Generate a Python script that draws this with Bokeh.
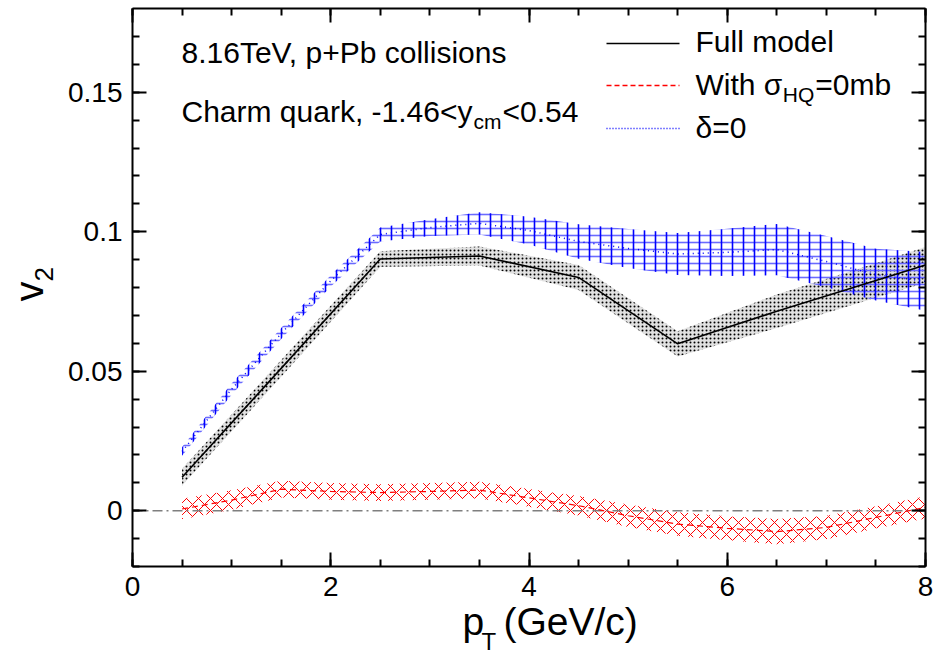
import math
from bokeh.plotting import figure
from bokeh.models import (Range1d, LinearAxis, SingleIntervalTicker, CustomJSTickFormatter, Label)
from bokeh.embed import file_html
from bokeh.resources import INLINE

# ---------------- data ----------------
# Full model
full_pt = [0.5, 1.5, 2.5, 3.5, 4.5, 5.5, 6.5, 7.5, 8.0]
full_v2 = [0.0120, 0.0510, 0.0902, 0.0913, 0.0836, 0.0598, 0.0715, 0.0825, 0.0881]
full_err = [0.0030, 0.0030, 0.0028, 0.0034, 0.0045, 0.0045, 0.0060, 0.0062, 0.0064]

# With sigma_HQ = 0 mb
sig0_pt = [0.5, 1.0, 1.5, 2.0, 2.5, 3.0, 3.5, 4.0, 4.5, 5.0, 5.5, 6.0, 6.5, 7.0, 7.5, 8.0]
sig0_v2 = [0.0006, 0.0038, 0.0077, 0.0069, 0.0065, 0.0069, 0.0074, 0.0046, 0.0018, -0.0018,
           -0.0048, -0.0063, -0.0075, -0.0060, -0.0024, 0.0012]
sig0_err = [0.0037, 0.0035, 0.0030, 0.0030, 0.0030, 0.0030, 0.0030, 0.0032, 0.0035, 0.0040,
            0.0042, 0.0043, 0.0045, 0.0042, 0.0040, 0.0040]

# delta = 0
d0_pt = [0.5, 1.0, 1.5, 2.0, 2.5, 3.0, 3.5, 4.0, 4.5, 5.0, 5.5, 6.0, 6.5, 7.0, 7.5, 8.0]
d0_v2 = [0.0212, 0.0436, 0.0635, 0.0824, 0.0990, 0.1015, 0.1030, 0.1004, 0.0965, 0.0940,
         0.0920, 0.0926, 0.0936, 0.0893, 0.0846, 0.0822]
d0_err = [0.0015, 0.0020, 0.0020, 0.0020, 0.0025, 0.0030, 0.0040, 0.0050, 0.0062, 0.0070,
          0.0075, 0.0085, 0.0092, 0.0092, 0.0093, 0.0105]

legend_labels = ["Full model", "With σ", "HQ", "=0mb", "δ=0"]
text_line1 = "8.16TeV, p+Pb collisions"
text_line2 = ["Charm quark, -1.46<y", "cm", "<0.54"]
x_title = ["p", "T", "(GeV/c)"]
y_title = ["v", "2"]

# ---------------- layout ----------------
FONT = "Liberation Sans"
W, H = 938, 656
X0, X1, Y0, Y1 = 0.0, 8.0, -0.02, 0.18          # axis extent
FL, FR, FT, FB = 132, 925, 8, 566              # axis box in page pixels

def dx(px):
    return X0 + (px - FL) / (FR - FL) * (X1 - X0)
def dy(py):
    return Y1 - (py - FT) / (FB - FT) * (Y1 - Y0)

# the plot frame covers the whole canvas; the axes are fixed at the box edges
p = figure(width=W, height=H, x_range=Range1d(dx(0), dx(W)), y_range=Range1d(dy(H), dy(0)),
           output_backend="svg", toolbar_location=None,
           min_border_left=0, min_border_right=0, min_border_top=0, min_border_bottom=0,
           background_fill_color="white", border_fill_color="white")
p.grid.visible = False
p.outline_line_color = None

fmt = CustomJSTickFormatter(code="return (Math.round(tick*1000)/1000).toString();")
blank = CustomJSTickFormatter(code="return '';")

def style_axis(ax, interval, nminor, formatter, loc, bounds, labels=True):
    ax.ticker = SingleIntervalTicker(interval=interval, num_minor_ticks=nminor)
    ax.formatter = formatter
    ax.fixed_location = loc
    ax.bounds = bounds
    ax.axis_line_width = 2
    ax.axis_line_color = "black"
    ax.major_tick_line_width = 2
    ax.minor_tick_line_width = 2
    ax.major_tick_line_color = "black"
    ax.minor_tick_line_color = "black"
    ax.major_tick_in = 14
    ax.major_tick_out = 0
    ax.minor_tick_in = 7
    ax.minor_tick_out = 0
    if labels:
        ax.major_label_text_font = FONT
        ax.major_label_text_font_size = "28px"
        ax.major_label_text_color = "black"
        ax.major_label_standoff = 10
    else:
        ax.major_label_text_font_size = "0px"
        ax.major_label_standoff = 0

style_axis(p.xaxis[0], 2, 4, fmt, Y0, (X0, X1))
style_axis(p.yaxis[0], 0.05, 5, fmt, X0, (Y0, Y1))
top_ax = LinearAxis()
right_ax = LinearAxis()
style_axis(top_ax, 2, 4, blank, Y1, (X0, X1), labels=False)
style_axis(right_ax, 0.05, 5, blank, X1, (Y0, Y1), labels=False)
p.add_layout(top_ax, "above")
p.add_layout(right_ax, "right")

# ---------------- bands ----------------
full_lo = [v - e for v, e in zip(full_v2, full_err)]
full_hi = [v + e for v, e in zip(full_v2, full_err)]
sig0_lo = [v - e for v, e in zip(sig0_v2, sig0_err)]
sig0_hi = [v + e for v, e in zip(sig0_v2, sig0_err)]
d0_lo = [v - e for v, e in zip(d0_v2, d0_err)]
d0_hi = [v + e for v, e in zip(d0_v2, d0_err)]

p.varea(x=full_pt, y1=full_lo, y2=full_hi, fill_color="#9a9a9a", fill_alpha=0.30,
        hatch_pattern="dot", hatch_color="black", hatch_scale=4, hatch_weight=1)
p.varea(x=sig0_pt, y1=sig0_lo, y2=sig0_hi, fill_alpha=0.0,
        hatch_pattern="diagonal_cross", hatch_color="red", hatch_scale=12, hatch_weight=1)
p.varea(x=d0_pt, y1=d0_lo, y2=d0_hi, fill_alpha=0.0,
        hatch_pattern="horizontal_line", hatch_color="#6a6aff", hatch_scale=7, hatch_weight=1.6)
p.varea(x=d0_pt, y1=d0_lo, y2=d0_hi, fill_alpha=0.0,
        hatch_pattern="vertical_line", hatch_color="blue", hatch_scale=11, hatch_weight=1.6)

# zero reference line across the axis box
p.line([X0, X1], [0, 0], line_color="#7f7f7f", line_width=1.6, line_dash="10 4 2 4")

# central curves
p.line(full_pt, full_v2, line_color="black", line_width=1.6)
p.line(sig0_pt, sig0_v2, line_color="red", line_width=1.2, line_dash="6 4")
p.line(d0_pt, d0_v2, line_color="blue", line_width=1.5, line_dash="1 4")

# ---------------- legend (manual) ----------------
lx0, lx1 = dx(606), dx(679)
p.line([lx0, lx1], [dy(43), dy(43)], line_color="black", line_width=1.6)
p.line([lx0, lx1], [dy(85), dy(85)], line_color="red", line_width=1.4, line_dash="5 3")
p.line([lx0, lx1], [dy(128), dy(128)], line_color="blue", line_width=1.5, line_dash="1 2")

# ---------------- texts ----------------
CW = {'0': .556, '1': .556, '2': .556, '3': .556, '4': .556, '5': .556, '6': .556, '7': .556,
      '8': .556, '9': .556, '.': .278, ',': .278, ' ': .278, '-': .333, '<': .584, '=': .584,
      '+': .584, '(': .333, ')': .333, '/': .278, 'C': .722, 'G': .778, 'T': .611, 'V': .667,
      'P': .667, 'F': .611, 'W': .944, 'H': .722, 'Q': .778, 'a': .556, 'b': .556, 'c': .5,
      'd': .556, 'e': .556, 'h': .556, 'i': .222, 'k': .5, 'l': .222, 'm': .833, 'n': .556,
      'o': .556, 'p': .556, 'q': .556, 'r': .333, 's': .5, 't': .278, 'u': .556, 'y': .5,
      'v': .5, 'σ': .6, 'δ': .55}
def tw(s, size):
    return sum(CW.get(c, .556) for c in s) * size

BIAS = 0.36   # empirical baseline correction (fraction of font size)

def lab(text, px, py, size, rotated=False):
    if rotated:
        px = px - BIAS * size
        angle = math.pi / 2
    else:
        py = py - BIAS * size
        angle = 0.0
    p.add_layout(Label(x=dx(px), y=dy(py), text=text, text_font=FONT,
                       text_font_size=f"{size}px", text_color="black", text_align="left",
                       text_baseline="alphabetic", angle=angle))

TS = 30
SS = 21
lab(text_line1, 181, 63, TS)
x = 181
lab(text_line2[0], x, 122, TS)
x += tw(text_line2[0], TS) + 1
lab(text_line2[1], x, 129, SS)
x += tw(text_line2[1], SS) + 1
lab(text_line2[2], x, 122, TS)

lab(legend_labels[0], 695, 52, TS)
x = 695
lab(legend_labels[1], x, 95, TS)
x += tw(legend_labels[1], TS) + 1
lab(legend_labels[2], x, 102, SS)
x += tw(legend_labels[2], SS) + 1
lab(legend_labels[3], x, 95, TS)
lab(legend_labels[4], 695, 138, TS)

# axis titles
lab(x_title[0], 462, 635, 39)
lab(x_title[1], 481, 650, 24)
lab(x_title[2], 503, 635, 39)
lab(y_title[0], 43, 301, 40, rotated=True)
lab(y_title[1], 53, 281, 26, rotated=True)

open("out.html", "w").write(file_html(p, INLINE))
